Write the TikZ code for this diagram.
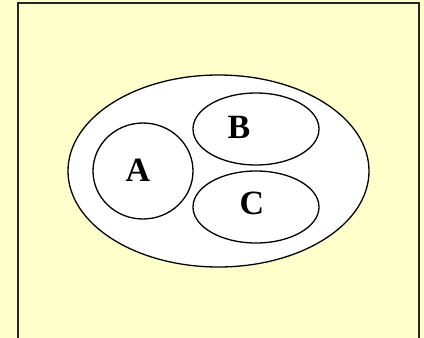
\documentclass[tikz,border=0pt]{standalone}
\usepackage{fontspec}
\setmainfont{Liberation Serif}
\usetikzlibrary{shapes.geometric}
\definecolor{bgyellow}{HTML}{FFFFCC}
\begin{document}
\begin{tikzpicture}[x=1pt,y=-1pt,
  setline/.style={draw=black,line width=1.3pt,fill=white,ellipse,inner sep=0pt},
  lbl/.style={font=\fontsize{34}{36}\selectfont\bfseries,inner sep=0pt}]
\fill[bgyellow] (0,0) rectangle (424,338);
\useasboundingbox (0,0) rectangle (424,338);
\draw[line width=1.4pt,draw=black!85] (18,3) rectangle (419,340);
\node[setline,minimum width=301pt,minimum height=192pt] (U) at (218.5,171) {};
\node[setline,minimum width=100pt,minimum height=96pt] (SA) at (143,171) {};
\node (A) [lbl] at (138,170) {A};
\node[setline,minimum width=126pt,minimum height=72pt] (SB) at (256,129) {};
\node (B) [lbl] at (239,127) {B};
\node[setline,minimum width=126pt,minimum height=72pt] (SC) at (256,207) {};
\node (C) [lbl] at (252,203) {C};
\end{tikzpicture}
\end{document}
